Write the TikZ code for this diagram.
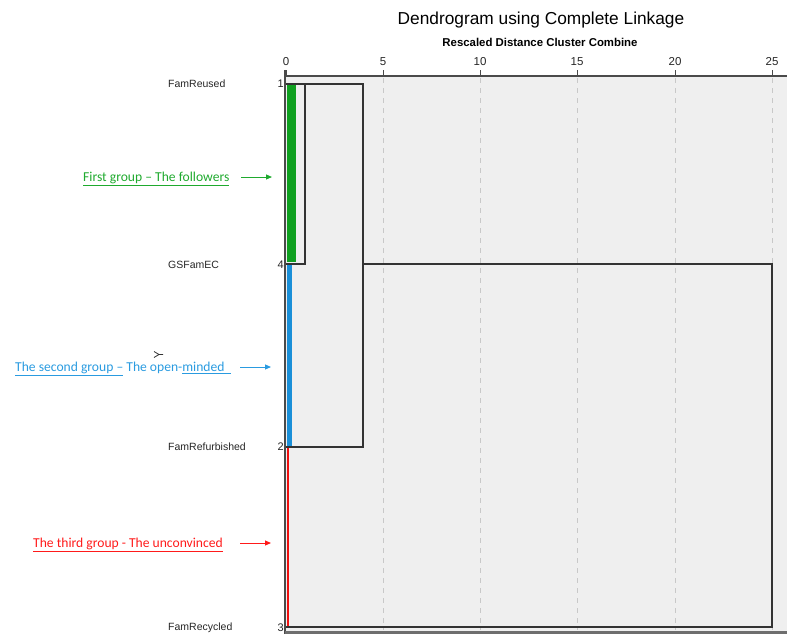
\documentclass[tikz,border=0pt]{standalone}
\usepackage{fontspec}
\setmainfont{Liberation Sans}
\newfontfamily\annfont{Carlito}
\usetikzlibrary{arrows.meta}
\definecolor{plotbg}{HTML}{EFEFEF}
\definecolor{gridc}{HTML}{C8C8C8}
\definecolor{axisc}{HTML}{4A4A4A}
\definecolor{barG}{HTML}{0FA020}
\definecolor{barB}{HTML}{1A8FD8}
\definecolor{barR}{HTML}{F01010}
\definecolor{txtG}{HTML}{1FAA2E}
\definecolor{txtB}{HTML}{2A9BE0}
\definecolor{txtR}{HTML}{FF1A1A}
\tikzset{
  leaflabel/.style={anchor=west,inner sep=0pt,font=\fontsize{10.5}{12}\selectfont,text=black!85},
  leafnum/.style={anchor=east,inner sep=0pt,font=\fontsize{11}{12}\selectfont,text=black!85},
  ticklabel/.style={anchor=south,inner sep=0pt,font=\fontsize{11.5}{12}\selectfont,text=black!85},
  dendro/.style={draw=black!80,line width=1.3pt},
  gridline/.style={draw=gridc,dashed,line width=0.8pt,dash pattern=on 5pt off 5pt},
  annot/.style={anchor=base west,inner sep=0pt,font=\annfont\fontsize{13.6}{15}\selectfont},
  annarrow/.style={-{Triangle[length=6pt,width=5pt]},line width=1pt},
}
\begin{document}
\begin{tikzpicture}[x=1pt,y=-1pt]
\useasboundingbox (0,0) rectangle (787,634);
% plot background
\fill[plotbg] (285,77) rectangle (787,631);
% grid
\foreach \gx in {383,480,577,675,772}
  \draw[gridline] (\gx,78) -- (\gx,630);
% axis
\draw[axisc,line width=1.3pt] (285,76) -- (787,76);
\draw[axisc,line width=1.5pt] (285,70) -- (285,634);
\fill[axisc!80] (285,630.5) rectangle (787,634);
\foreach \gx/\lab in {286/0,383/5,480/10,577/15,675/20,772/25}{
  \draw[axisc,line width=1pt] (\gx,76) -- (\gx,70);
  \node[ticklabel] (t\lab) at (\gx,66) {\lab};
}
% title
\node[inner sep=0pt,font=\fontsize{17.3}{19}\selectfont] (title) at (541,20) {Dendrogram using Complete Linkage};
\node[inner sep=0pt,font=\bfseries\fontsize{11.4}{13}\selectfont] (subtitle) at (540,42) {Rescaled Distance Cluster Combine};
% leaves
\coordinate (l1) at (286,84);
\coordinate (l4) at (286,264);
\coordinate (l2) at (286,447);
\coordinate (l3) at (286,627);
\node[leaflabel] (n1) at (168,84) {FamReused};
\node[leaflabel] (n4) at (168,265) {GSFamEC};
\node[leaflabel] (n2) at (168,447) {FamRefurbished};
\node[leaflabel] (n3) at (168,628) {FamRecycled};
\node[leafnum] (k1) at (284,84) {1};
\node[leafnum] (k4) at (284,265) {4};
\node[leafnum] (k2) at (284,447) {2};
\node[leafnum] (k3) at (284,628) {3};
% dendrogram
\draw[dendro] (l4) -- (305,264) -- (305,84);
\draw[dendro] (l1) -- (363,84) -- (363,447) -- (l2);
\draw[dendro] (363,264) -- (772,264) -- (772,627) -- (l3);
% colored bars
\fill[barG] (286.5,85) rectangle (295.5,262);
\fill[barB] (286.5,265) rectangle (292,446);
\fill[barR] (286.5,448) rectangle (289.3,626);
% annotations
\node[annot,text=txtG] (a1) at (83,181.5) {\underline{First group – The followers}};
\node[annot,text=txtB] (a2) at (15,371.5) {\underline{The second group –} The open-\underline{minded\ \ }};
\node[annot,text=txtR] (a3) at (33,547.5) {\underline{The third group - The unconvinced}};
\coordinate (e1s) at (241,177);
\coordinate (e1e) at (272,177);
\coordinate (e2s) at (240,367);
\coordinate (e2e) at (271,367);
\coordinate (e3s) at (240,543);
\coordinate (e3e) at (271,543);
\draw[annarrow,txtG] (e1s) -- (e1e);
\draw[annarrow,txtB] (e2s) -- (e2e);
\draw[annarrow,txtR] (e3s) -- (e3e);
% stray cursor mark
\draw[black!80,line width=0.8pt] (154,351.5) -- (159,354.5) -- (154,357.5) (159,354.5) -- (163,354.5);
\end{tikzpicture}
\end{document}
